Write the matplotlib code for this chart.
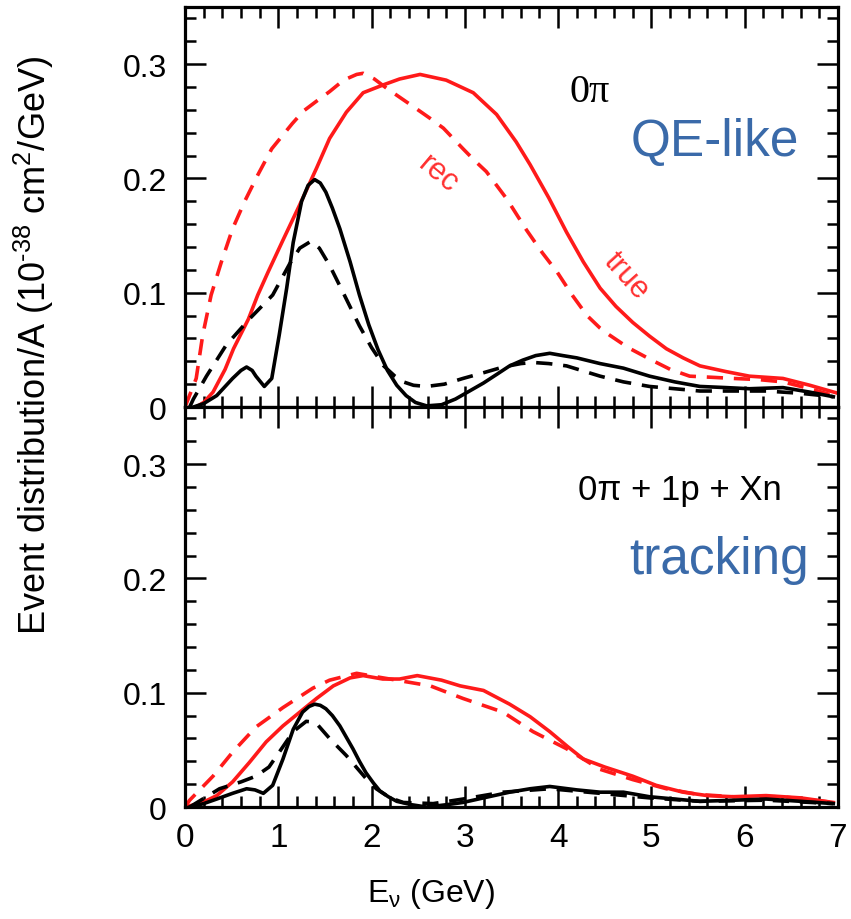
import matplotlib
matplotlib.use("Agg")
import matplotlib.pyplot as plt
from matplotlib.ticker import MultipleLocator, FuncFormatter

plt.rcParams['font.family'] = ['Liberation Sans', 'DejaVu Sans']
plt.rcParams['mathtext.fontset'] = 'custom'
plt.rcParams['mathtext.rm'] = 'Liberation Sans'
plt.rcParams['mathtext.it'] = 'Liberation Sans'

# ---- 0pi (QE-like) sample ----
e_top_true = [0.12, 0.20, 0.30, 0.43, 0.52, 0.60, 0.68, 0.78, 0.89, 1.05, 1.23, 1.41, 1.55,
              1.73, 1.91, 2.13, 2.30, 2.52, 2.80, 3.09, 3.34, 3.55, 3.70, 3.90, 4.09, 4.27,
              4.45, 4.62, 4.80, 4.98, 5.16, 5.34, 5.52, 5.80, 6.05, 6.41, 6.70, 7.00]
y_top_true = [0.000, 0.004, 0.013, 0.033, 0.051, 0.064, 0.077, 0.098, 0.118, 0.146, 0.177,
              0.209, 0.235, 0.258, 0.275, 0.282, 0.287, 0.291, 0.286, 0.275, 0.256, 0.232,
              0.212, 0.183, 0.153, 0.127, 0.104, 0.088, 0.074, 0.062, 0.051, 0.043, 0.036,
              0.031, 0.027, 0.025, 0.019, 0.012]

e_top_rec = [0.00, 0.12, 0.19, 0.28, 0.39, 0.51, 0.64, 0.78, 0.93, 1.02, 1.15, 1.27, 1.40,
             1.55, 1.70, 1.84, 1.91, 2.03, 2.16, 2.32, 2.48, 2.62, 2.77, 2.98, 3.10, 3.23,
             3.45, 3.66, 3.83, 3.99, 4.15, 4.31, 4.45, 4.55, 4.75, 4.98, 5.20, 5.41, 5.65,
             5.88, 6.15, 6.41, 6.70, 6.95]
y_top_rec = [0.000, 0.025, 0.063, 0.098, 0.127, 0.156, 0.180, 0.203, 0.226, 0.235, 0.248,
             0.259, 0.267, 0.276, 0.286, 0.291, 0.292, 0.287, 0.279, 0.270, 0.261, 0.253,
             0.244, 0.226, 0.216, 0.206, 0.182, 0.155, 0.135, 0.118, 0.098, 0.080, 0.069,
             0.063, 0.052, 0.042, 0.033, 0.027, 0.026, 0.025, 0.024, 0.022, 0.016, 0.010]

e_top_qe_true = [0.09, 0.20, 0.34, 0.51, 0.60, 0.66, 0.72, 0.76, 0.85, 0.93, 1.01, 1.09,
                 1.16, 1.25, 1.32, 1.39, 1.45, 1.51, 1.58, 1.66, 1.77, 1.87, 1.97, 2.07,
                 2.17, 2.27, 2.37, 2.47, 2.59, 2.75, 2.90, 3.05, 3.20, 3.35, 3.48, 3.62,
                 3.76, 3.91, 4.05, 4.20, 4.45, 4.70, 4.98, 5.25, 5.52, 5.80, 6.05, 6.41,
                 6.70, 6.95]
y_top_qe_true = [0.000, 0.003, 0.010, 0.025, 0.032, 0.035, 0.032, 0.027, 0.018, 0.025,
                 0.063, 0.104, 0.144, 0.180, 0.194, 0.199, 0.196, 0.188, 0.174, 0.156,
                 0.127, 0.098, 0.072, 0.050, 0.032, 0.019, 0.010, 0.004, 0.001, 0.002,
                 0.007, 0.014, 0.021, 0.029, 0.036, 0.041, 0.045, 0.047, 0.045, 0.043,
                 0.038, 0.034, 0.027, 0.022, 0.018, 0.017, 0.016, 0.017, 0.013, 0.009]

e_top_qe_rec = [0.05, 0.09, 0.23, 0.44, 0.69, 0.94, 1.12, 1.23, 1.35, 1.44, 1.55, 1.69,
                1.87, 2.00, 2.13, 2.25, 2.34, 2.45, 2.59, 2.78, 2.98, 3.20, 3.41, 3.60,
                3.73, 3.90, 4.09, 4.25, 4.45, 4.70, 4.98, 5.25, 5.52, 5.90, 6.23, 6.60,
                6.95]
y_top_qe_rec = [0.000, 0.007, 0.027, 0.054, 0.077, 0.098, 0.125, 0.139, 0.145, 0.139,
                0.124, 0.101, 0.071, 0.052, 0.036, 0.027, 0.022, 0.019, 0.018, 0.020,
                0.025, 0.030, 0.035, 0.038, 0.039, 0.038, 0.036, 0.032, 0.027, 0.022,
                0.018, 0.016, 0.014, 0.014, 0.014, 0.012, 0.009]

# ---- 0pi + 1p + Xn (tracking) sample ----
e_bot_true = [0.05, 0.19, 0.34, 0.51, 0.69, 0.87, 1.05, 1.23, 1.41, 1.59, 1.77, 1.91, 2.12,
              2.30, 2.49, 2.75, 2.95, 3.20, 3.48, 3.70, 3.91, 4.10, 4.27, 4.50, 4.80, 5.05,
              5.34, 5.60, 5.88, 6.23, 6.60, 6.95]
y_bot_true = [0.001, 0.004, 0.010, 0.022, 0.039, 0.057, 0.071, 0.083, 0.095, 0.106, 0.113,
              0.115, 0.112, 0.112, 0.115, 0.111, 0.106, 0.102, 0.090, 0.079, 0.066, 0.053,
              0.042, 0.035, 0.027, 0.019, 0.013, 0.010, 0.009, 0.010, 0.008, 0.004]

e_bot_rec = [0.00, 0.05, 0.30, 0.51, 0.76, 1.05, 1.37, 1.55, 1.84, 2.05, 2.27, 2.63, 2.98,
             3.41, 3.73, 4.09, 4.45, 4.80, 5.16, 5.50, 5.88, 6.40, 6.95]
y_bot_rec = [0.000, 0.006, 0.027, 0.048, 0.070, 0.087, 0.104, 0.111, 0.117, 0.114, 0.111,
             0.106, 0.095, 0.083, 0.066, 0.051, 0.033, 0.024, 0.016, 0.011, 0.009, 0.009,
             0.004]

e_bot_qe_true = [0.05, 0.20, 0.34, 0.51, 0.66, 0.75, 0.84, 0.94, 1.05, 1.16, 1.26, 1.33,
                 1.39, 1.45, 1.51, 1.58, 1.66, 1.73, 1.80, 1.87, 1.94, 2.02, 2.09, 2.18,
                 2.27, 2.43, 2.59, 2.80, 2.98, 3.20, 3.48, 3.70, 3.91, 4.20, 4.45, 4.70,
                 4.98, 5.25, 5.52, 5.90, 6.23, 6.60, 6.95]
y_bot_qe_true = [0.000, 0.003, 0.007, 0.012, 0.016, 0.015, 0.012, 0.019, 0.042, 0.068,
                 0.083, 0.088, 0.090, 0.089, 0.086, 0.080, 0.071, 0.061, 0.051, 0.040,
                 0.030, 0.021, 0.014, 0.009, 0.005, 0.002, 0.000, 0.002, 0.004, 0.008,
                 0.013, 0.016, 0.018, 0.015, 0.013, 0.013, 0.009, 0.007, 0.005, 0.006,
                 0.007, 0.005, 0.003]

e_bot_qe_rec = [0.05, 0.37, 0.60, 0.76, 0.90, 1.01, 1.16, 1.30, 1.40, 1.55, 1.73, 1.94,
                2.05, 2.20, 2.34, 2.66, 2.98, 3.41, 3.91, 4.45, 4.98, 5.52, 6.23, 6.95]
y_bot_qe_rec = [0.000, 0.016, 0.022, 0.027, 0.035, 0.048, 0.066, 0.075, 0.074, 0.060,
                0.045, 0.025, 0.016, 0.008, 0.004, 0.003, 0.007, 0.013, 0.016, 0.012,
                0.008, 0.005, 0.006, 0.003]

RED = '#ff1a1a'
BLUE = '#3a6aa9'
LW = 2.6
DASH = (4.5, 3.0)

fig = plt.figure(figsize=(8.51, 9.20), dpi=100)
ax_top = fig.add_axes([0.2174, 0.5565, 0.7673, 0.4348])
ax_bot = fig.add_axes([0.2174, 0.1217, 0.7673, 0.4348], sharex=ax_top)


def draw_panel(ax, e_true, y_true, e_rec, y_rec, e_qt, y_qt, e_qr, y_qr):
    ax.plot(e_true, y_true, color=RED, lw=LW, solid_joinstyle='round')
    ax.plot(e_rec, y_rec, color=RED, lw=LW, dashes=DASH)
    ax.plot(e_qt, y_qt, color='black', lw=LW, solid_joinstyle='round')
    ax.plot(e_qr, y_qr, color='black', lw=LW, dashes=DASH)
    ax.set_xlim(0, 7)
    ax.set_ylim(0, 0.35)
    ax.xaxis.set_major_locator(MultipleLocator(1))
    ax.xaxis.set_minor_locator(MultipleLocator(0.2))
    ax.yaxis.set_major_locator(MultipleLocator(0.1))
    ax.yaxis.set_minor_locator(MultipleLocator(0.02))
    ax.yaxis.set_major_formatter(FuncFormatter(lambda v, p: '0' if abs(v) < 1e-9 else f'{v:.1f}'))
    ax.tick_params(which='both', direction='in', top=True, right=True, width=1.8)
    ax.tick_params(which='major', length=15)
    ax.tick_params(which='minor', length=8)
    ax.tick_params(axis='y', labelsize=23, pad=13)
    ax.tick_params(axis='x', labelsize=24, pad=11)
    for s in ax.spines.values():
        s.set_linewidth(2.3)


draw_panel(ax_top, e_top_true, y_top_true, e_top_rec, y_top_rec,
           e_top_qe_true, y_top_qe_true, e_top_qe_rec, y_top_qe_rec)
draw_panel(ax_bot, e_bot_true, y_bot_true, e_bot_rec, y_bot_rec,
           e_bot_qe_true, y_bot_qe_true, e_bot_qe_rec, y_bot_qe_rec)
ax_top.tick_params(axis='x', labelbottom=False)

# panel labels
ax_top.text(4.34, 0.276, '0π', fontsize=29, family=['Liberation Serif', 'DejaVu Serif'],
            ha='center', va='center')
ax_top.text(5.68, 0.232, 'QE-like', fontsize=37, color=BLUE, ha='center', va='center')
ax_top.text(2.72, 0.204, 'rec', fontsize=22, color='#ff3030', rotation=-40,
            ha='center', va='center')
ax_top.text(4.73, 0.115, 'true', fontsize=22, color='#ff3030', rotation=-48,
            ha='center', va='center')

ax_bot.text(5.30, 0.278, '0π + 1p + Xn', fontsize=25, ha='center', va='center')
ax_bot.text(5.73, 0.217, 'tracking', fontsize=37, color=BLUE, ha='center', va='center')

fig.text(0.507, 0.028, r'E$_\nu$ (GeV)', fontsize=23, ha='center', va='center')
fig.text(0.040, 0.625, r'Event distribution/A (10$^{\text{-38}}$ cm$^{2}$/GeV)', fontsize=26,
         rotation=90, ha='center', va='center')

fig.savefig('out.png', dpi=100)
